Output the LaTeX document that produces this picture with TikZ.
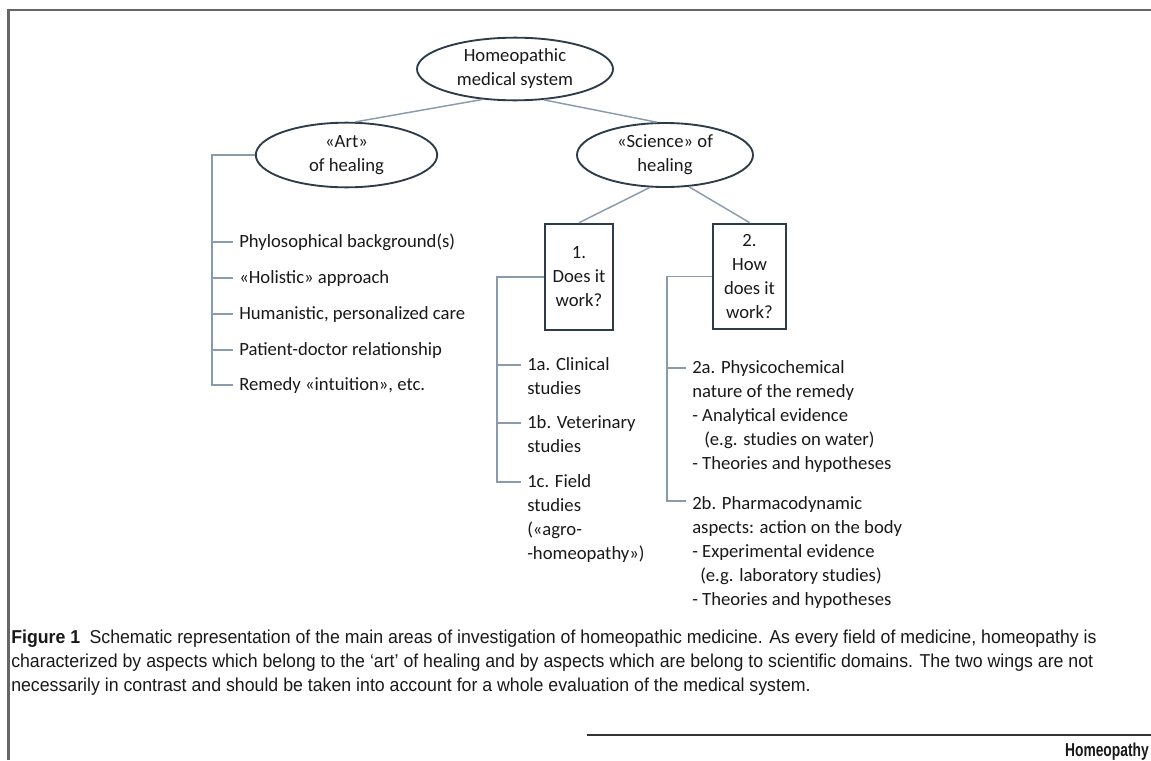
\documentclass[tikz,border=0pt]{standalone}
\usepackage{fontspec}
\setmainfont{Carlito}
\newfontfamily\capfont[FakeStretch=0.95]{Liberation Sans}
\newfontfamily\footfont[FakeStretch=0.74]{Liberation Sans}
\usetikzlibrary{shapes.geometric}

\definecolor{linkgray}{HTML}{8A9BB0}
\definecolor{boxdark}{HTML}{2E3B49}
\definecolor{framegray}{HTML}{666666}

\tikzset{
  topic/.style={ellipse, draw=boxdark, line width=1.4pt, inner sep=0pt, align=center},
  question/.style={rectangle, draw=boxdark, line width=1.9pt, inner sep=0pt, align=center},
  item/.style={anchor=base west, inner xsep=4.5pt, inner ysep=0pt, align=left},
  block/.style={item, anchor=north west},
  link/.style={draw=linkgray, line width=1.1pt},
}

\begin{document}
\begin{tikzpicture}[x=0.75pt, y=-0.75pt, font=\fontsize{14}{18}\selectfont, text=black!90]
    \useasboundingbox (0,0) rectangle (1151,760);

    % Page frame
    \draw[framegray, line width=2.2pt] (8.5,760) -- (8.5,10) -- (1151,10);

    % Tree heads
    \node[topic, minimum width=147pt, minimum height=47pt] (root) at (515,69) {Homeopathic\\medical system};
    \node[topic, minimum width=136pt, minimum height=48.5pt] (art) at (346.5,155) {«Art»\\of healing};
    \node[topic, minimum width=132pt, minimum height=48pt] (sci) at (665,155) {«Science» of\\healing};
    \node[question, minimum width=51pt, minimum height=79.5pt] (box1) at (579,277) {1.\\Does it\\work?};
    \node[question, minimum width=55pt, minimum height=79pt] (box2) at (749.5,276.5) {2.\\How\\does it\\work?};

    \draw[link] (root.223) -- (art.75);
    \draw[link] (root.313) -- (sci.104);
    \draw[link] (sci.245) -- (box1.north);
    \draw[link] (sci.307) -- (box2.north);

    % Art of healing
    \coordinate (artbar) at (212,155);
    \foreach \y/\txt [count=\i] in {242/Phylosophical background(s), 278/«Holistic» approach,
        314/{Humanistic, personalized care}, 350/Patient-doctor relationship, 385/{Remedy «intuition», etc.}} {
      \coordinate (at\i) at (233,\y);
      \node[item] (a\i) at (233,\y+5) {\txt};
    }
    \draw[link] (art.west) -| (artbar |- at5) -- (at5);
    \foreach \i in {1,...,4} \draw[link] (artbar |- at\i) -- (at\i);

    % Does it work?
    \coordinate (onebar) at (497,277);
    \coordinate (bt1) at (521,365);
    \coordinate (bt2) at (521,423);
    \coordinate (bt3) at (521,482);
    \node[block] (b1) at (521,357) {1a. Clinical\\studies};
    \node[block] (b2) at (521,415) {1b. Veterinary\\studies};
    \node[block] (b3) at (521,474) {1c. Field\\studies\\(«agro-\\-homeopathy»)};
    \draw[link] (box1.west) -| (onebar |- bt3) -- (bt3);
    \draw[link] (onebar |- bt1) -- (bt1);
    \draw[link] (onebar |- bt2) -- (bt2);

    % How does it work?
    \coordinate (twobar) at (667,277);
    \coordinate (ct1) at (686,368);
    \coordinate (ct2) at (686,501);
    \node[block] (c1) at (686,360) {2a. Physicochemical\\nature of the remedy\\- Analytical evidence\\\hspace*{9pt}(e.g. studies on water)\\- Theories and hypotheses};
    \node[block] (c2) at (686,496) {2b. Pharmacodynamic\\aspects: action on the body\\- Experimental evidence\\\hspace*{6pt}(e.g. laboratory studies)\\- Theories and hypotheses};
    \draw[link] (box2.west) -| (twobar |- ct2) -- (ct2);
    \draw[link] (twobar |- ct1) -- (ct1);

    % Caption
    \node[anchor=north west, inner sep=0pt, align=left, font=\capfont\fontsize{14}{18}\selectfont] (caption) at (11,630)
      {\textbf{Figure 1}\hspace{7pt}Schematic representation of the main areas of investigation of homeopathic medicine. As every field of medicine, homeopathy is\\
       characterized by aspects which belong to the ‘art’ of healing and by aspects which are belong to scientific domains. The two wings are not\\
       necessarily in contrast and should be taken into account for a whole evaluation of the medical system.};

    % Journal footer
    \coordinate (rulestart) at (587,735);
    \draw[black!80, line width=1.5pt] (rulestart) -- (1151,735);
    \node[anchor=base east, inner sep=0pt, font=\footfont\bfseries\fontsize{14}{18}\selectfont] (journal) at (1149,756) {Homeopathy};
\end{tikzpicture}
\end{document}
